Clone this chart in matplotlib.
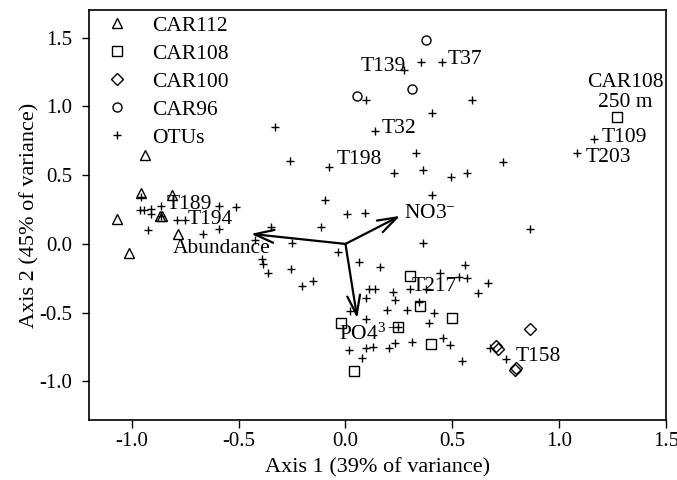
# RDA-style ordination biplot: samples, OTUs and environmental vectors
import matplotlib
matplotlib.use("Agg")
import matplotlib.pyplot as plt

# OTU scores (plus markers)
otu_x = [-0.328, -0.258, -0.957, -0.962, -0.942, -0.910, -0.863, -0.910, -0.864, -0.790,
         -0.749, -0.590, -0.512, -0.926, -0.590, -0.665, -0.348, -0.422, -0.252, -0.390,
         -0.387, -0.361, -0.254, -0.205, -0.150, -0.114, -0.098, 0.008, 0.092, 0.404,
         -0.033, 0.362, 0.061, 0.163, 0.557, 0.443, 0.531, 0.568, 0.620, 0.667,
         0.300, 0.378, 0.112, 0.139, 0.222, 0.094, 0.233, 0.343, 0.023, 0.193,
         0.287, 0.412, 0.097, 0.391, 0.246, 0.456, 0.487, 0.015, 0.097, 0.128,
         0.206, 0.230, 0.312, 0.078, 0.547, 0.674, 0.753, 0.276, 0.355, 0.451,
         0.094, 0.593, 0.406, 0.139, -0.078, 0.225, 0.331, 0.362, 0.495, 0.568,
         0.737, 1.162, 1.083, 0.862]
otu_y = [0.849, 0.600, 0.340, 0.247, 0.247, 0.255, 0.276, 0.216, 0.200, 0.175,
         0.171, 0.279, 0.271, 0.102, 0.107, 0.073, 0.126, 0.025, 0.005, -0.111,
         -0.148, -0.209, -0.182, -0.305, -0.269, 0.126, 0.320, 0.220, 0.228, 0.353,
         -0.056, 0.005, -0.131, -0.171, -0.151, -0.209, -0.242, -0.251, -0.360, -0.286,
         -0.329, -0.327, -0.329, -0.327, -0.347, -0.395, -0.407, -0.420, -0.484, -0.480,
         -0.480, -0.500, -0.548, -0.577, -0.607, -0.686, -0.735, -0.773, -0.754, -0.747,
         -0.759, -0.718, -0.711, -0.831, -0.849, -0.759, -0.836, 1.265, 1.319, 1.321,
         1.047, 1.047, 0.951, 0.822, 0.562, 0.519, 0.660, 0.538, 0.489, 0.519,
         0.599, 0.764, 0.664, 0.109]

# sample scores
car112_x = [-0.938, -0.957, -0.812, -0.866, -0.860, -1.069, -0.782, -1.015]
car112_y = [0.647, 0.369, 0.356, 0.200, 0.205, 0.178, 0.073, -0.068]
car108_x = [0.304, 0.348, 0.498, 0.246, 0.400, -0.020, 0.042, 1.271]
car108_y = [-0.233, -0.453, -0.542, -0.607, -0.731, -0.572, -0.924, 0.926]
car100_x = [0.865, 0.703, 0.714, 0.794, 0.799]
car100_y = [-0.620, -0.742, -0.764, -0.916, -0.902]
car96_x = [0.375, 0.312, 0.053]
car96_y = [1.484, 1.125, 1.076]

# environmental vectors
vec_names = [r"NO3$^{-}$", "Abundance", r"PO4$^{3-}$"]
vec_x = [0.256, -0.442, 0.055]
vec_y = [0.204, 0.073, -0.540]
vec_label_x = [0.276, -0.806, -0.028]
vec_label_y = [0.223, -0.031, -0.655]

# labelled OTUs
otu_labels = ["T189", "T194", "T139", "T37", "T32", "T198", "T109", "T203", "T217", "T158"]
otu_label_x = [-0.835, -0.739, 0.070, 0.479, 0.167, -0.041, 1.198, 1.123, 0.308, 0.796]
otu_label_y = [0.290, 0.180, 1.289, 1.343, 0.840, 0.616, 0.776, 0.628, -0.310, -0.820]

FONT = "Liberation Serif"
plt.rcParams["font.family"] = FONT
plt.rcParams["mathtext.fontset"] = "custom"
plt.rcParams["mathtext.rm"] = FONT
plt.rcParams["mathtext.it"] = FONT + ":italic"
plt.rcParams["font.size"] = 15.5

fig = plt.figure(figsize=(6.77, 4.8), dpi=100)
ax = fig.add_axes([0.1315, 0.125, 0.8523, 0.854])

mk = dict(linestyle="none", markerfacecolor="none", markeredgecolor="black",
          markeredgewidth=1.0)
ax.plot(car112_x, car112_y, marker="^", markersize=7, label="CAR112", **mk)
ax.plot(car108_x, car108_y, marker="s", markersize=6.5, label="CAR108", **mk)
ax.plot(car100_x, car100_y, marker="D", markersize=6, label="CAR100", **mk)
ax.plot(car96_x, car96_y, marker="o", markersize=6.5, label="CAR96", **mk)
ax.plot(otu_x, otu_y, linestyle="none", marker="+", color="black",
        markersize=5.5, markeredgewidth=1.0, label="OTUs")

for name, vx, vy, lx, ly in zip(vec_names, vec_x, vec_y, vec_label_x, vec_label_y):
    ax.annotate("", xy=(vx, vy), xytext=(0, 0),
                arrowprops=dict(arrowstyle="->,head_length=0.9,head_width=0.3",
                                lw=1.6, color="black", shrinkA=0, shrinkB=0))
    ax.text(lx, ly, name, ha="left", va="center", fontsize=15.5)

for name, lx, ly in zip(otu_labels, otu_label_x, otu_label_y):
    ax.text(lx, ly, name, ha="left", va="center", fontsize=15.5)

ax.text(1.31, 1.10, "CAR108\n250 m", ha="center", va="center",
        multialignment="center", linespacing=1.05, fontsize=15.5)

ax.set_xlim(-1.2, 1.5)
ax.set_ylim(-1.28, 1.70)
ax.set_xticks([-1.0, -0.5, 0.0, 0.5, 1.0, 1.5])
ax.set_yticks([-1.0, -0.5, 0.0, 0.5, 1.0, 1.5])
ax.set_xticklabels(["-1.0", "-0.5", "0.0", "0.5", "1.0", "1.5"])
ax.set_yticklabels(["-1.0", "-0.5", "0.0", "0.5", "1.0", "1.5"])
ax.tick_params(axis="x", direction="out", length=6, width=1, labelsize=15, pad=2.5)
ax.tick_params(axis="y", direction="out", length=5, width=1, labelsize=15, pad=7)
for s in ax.spines.values():
    s.set_linewidth(1.2)
ax.set_xlabel("Axis 1 (39% of variance)", fontsize=16, labelpad=5.5)
ax.set_ylabel("Axis 2 (45% of variance)", fontsize=16, labelpad=0)

ax.legend(loc="upper left", frameon=False, fontsize=15.5, handlelength=2.07,
          handletextpad=0.6, labelspacing=0.37, borderaxespad=0.25, borderpad=0.0)

fig.savefig("out.png", dpi=100)
